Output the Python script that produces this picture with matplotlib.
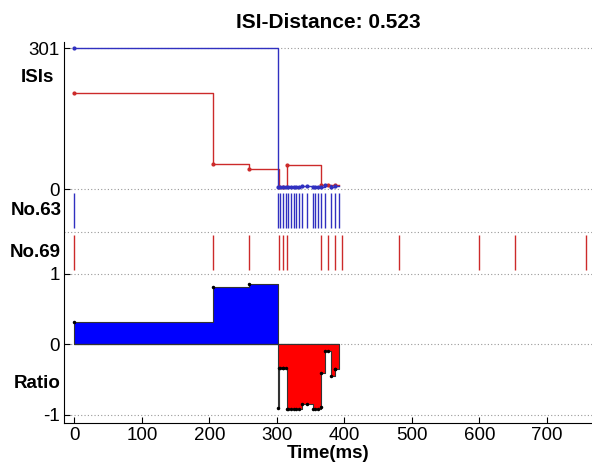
import numpy as np
import matplotlib.pyplot as plt
from matplotlib.transforms import blended_transform_factory

plt.rcParams['font.family'] = ['Liberation Sans', 'DejaVu Sans']

# spike times (ms)
spikes_63 = [0, 301, 305, 309, 313, 317, 321, 325, 329, 333, 337, 345, 353, 357, 361, 365, 371, 380, 385.5, 392]
spikes_69 = [0, 205, 259, 302.5, 308.5, 314.5, 366, 376, 386, 396, 481, 599, 652.5, 758]
t_end = 392          # end of the ISI window
isi_top = 301        # top tick of the ISI panel
title_text = 'ISI-Distance: 0.523'
x_ticks = [0, 100, 200, 300, 400, 500, 600, 700]
row_names = ['ISIs', 'No.63', 'No.69', 'Ratio']

# vertical layout of the single axes (data units)
ISI_BASE, ISI_SPAN = 2.2, 2.0
ROW63 = (1.6, 2.2)
ROW69 = (1.0, 1.6)

C_BLUE = '#3030c0'
C_RED = '#cc2a2a'


def isi_at(spikes, edges):
    """ISI value of the train on each segment [edges[i], edges[i+1])."""
    s = np.asarray(spikes, dtype=float)
    out = []
    for a in edges[:-1]:
        i = np.searchsorted(s, a, side='right') - 1
        out.append(s[i + 1] - s[i])
    return np.array(out)


edges = np.unique(np.concatenate([[x for x in spikes_63 if x < t_end],
                                  [x for x in spikes_69 if x < t_end],
                                  [t_end]]))
isi63 = isi_at(spikes_63, edges)
isi69 = isi_at(spikes_69, edges)
ratio = np.where(isi63 >= isi69, 1 - isi69 / isi63, isi63 / isi69 - 1)


def to_y(isi):
    return ISI_BASE + np.asarray(isi) * ISI_SPAN / isi_top


fig = plt.figure(figsize=(5.92, 4.66), dpi=100)
ax = fig.add_axes([0.1081, 0.0929, 0.8919, 0.817])

# dotted reference lines
for yy in [ISI_BASE + ISI_SPAN, ISI_BASE, 1.6, 1, 0, -1]:
    ax.axhline(yy, color='#999999', ls=(0, (1, 2)), lw=0.8, zorder=0)

# ISI panels (step profiles + dots at segment starts)
for spk, isi, col in [(spikes_69, isi69, C_RED), (spikes_63, isi63, C_BLUE)]:
    s = np.array([x for x in spk if x < t_end])
    v = isi_at(spk, np.append(s, t_end))
    ax.step(np.append(s, t_end), to_y(np.append(v, v[-1])), where='post',
            color=col, lw=1, zorder=3)
    ax.plot(s, to_y(v), '.', color=col, ms=4, zorder=4)

# spike trains
ax.vlines(spikes_63, ROW63[0] + 0.05, ROW63[1] - 0.05, color=C_BLUE, lw=1)
ax.vlines(spikes_69, ROW69[0] + 0.05, ROW69[1] - 0.05, color=C_RED, lw=1)

# ratio profile
r_step = np.append(ratio, ratio[-1])
ax.fill_between(edges, np.clip(r_step, 0, None), 0, step='post',
                facecolor='#0000ff', edgecolor='#333333', lw=0.8, zorder=2)
ax.fill_between(edges, np.clip(r_step, None, 0), 0, step='post',
                facecolor='#ff0000', edgecolor='#333333', lw=0.8, zorder=2)
ax.plot(edges[:-1], ratio, 'k.', ms=3, zorder=4)

ax.set_xlim(-15.4, 767)
ax.set_ylim(-1.11, 4.29)
ax.set_xticks(x_ticks)
ax.set_yticks([-1, 0, 1, ISI_BASE, ISI_BASE + ISI_SPAN])
ax.set_yticklabels(['-1', '0', '1', '0', str(isi_top)])
ax.tick_params(direction='in', length=4, labelsize=13.5, pad=3)
ax.spines['top'].set_visible(False)
ax.spines['right'].set_visible(False)

trans = blended_transform_factory(ax.transAxes, ax.transData)
for name, yy, xx in zip(row_names, [3.78, 1.9, 1.3, -0.55],
                        [-0.019, -0.004, -0.006, -0.006]):
    ax.text(xx, yy, name, transform=trans, ha='right', va='center',
            fontsize=13.5, fontweight='bold')

ax.set_xlabel('Time(ms)', fontsize=13.5, fontweight='bold', labelpad=1)
ax.set_title(title_text, fontsize=15, fontweight='bold', pad=10)

fig.savefig('out.png', dpi=100)
